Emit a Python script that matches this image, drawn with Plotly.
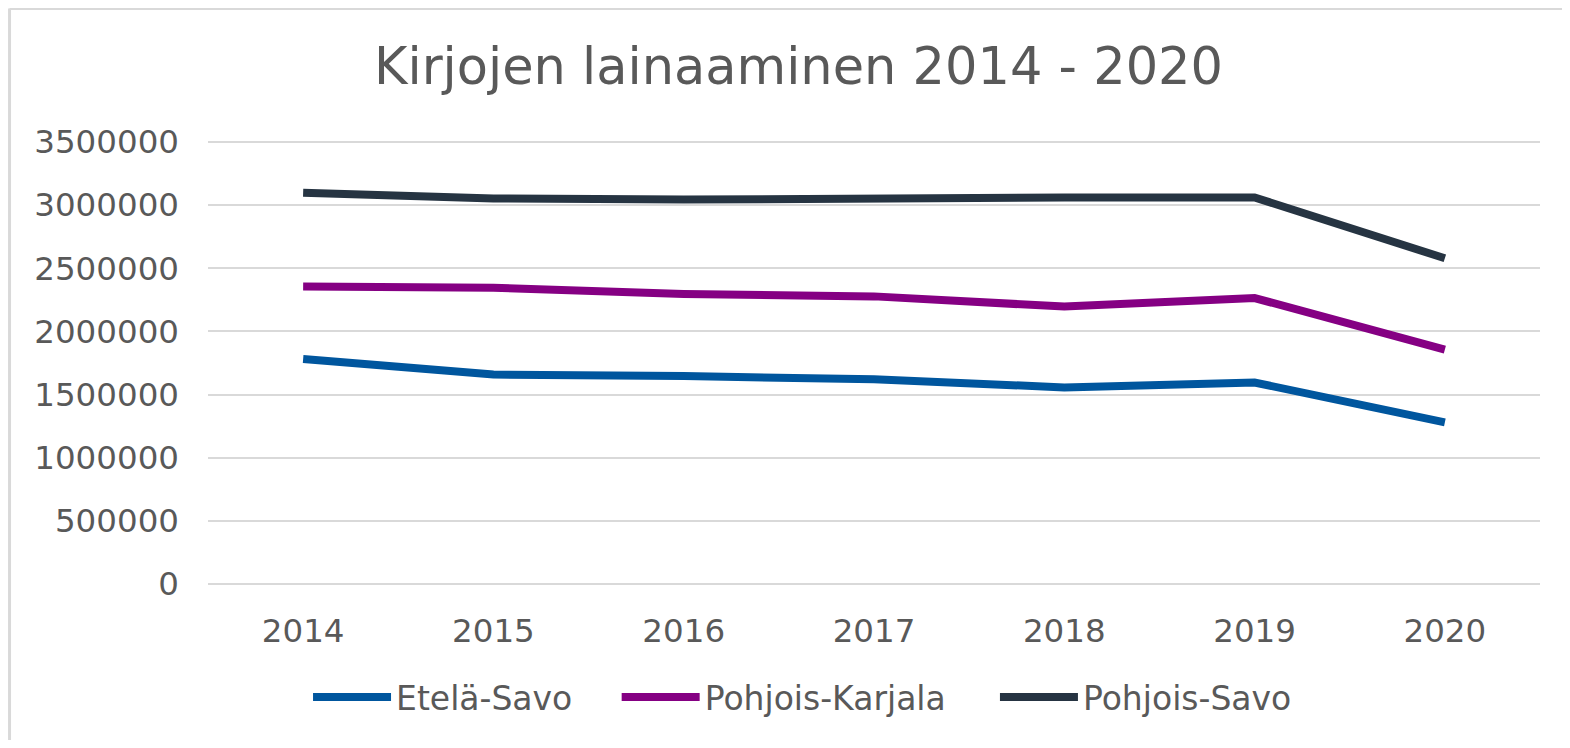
import plotly.graph_objects as go

years = ["2014", "2015", "2016", "2017", "2018", "2019", "2020"]
etela_savo = [1781000, 1658000, 1646000, 1621000, 1556000, 1595000, 1280000]
pohjois_karjala = [2356000, 2345000, 2296000, 2277000, 2196000, 2264000, 1855000]
pohjois_savo = [3097000, 3052000, 3043000, 3055000, 3059000, 3060000, 2579000]
y_ticks = [0, 500000, 1000000, 1500000, 2000000, 2500000, 3000000, 3500000]

series = [
    ("Etelä-Savo", etela_savo, "#00569E", "legend", 0.0751),
    ("Pohjois-Karjala", pohjois_karjala, "#850083", "legend2", 0.3068),
    ("Pohjois-Savo", pohjois_savo, "#263442", "legend3", 0.5908),
]

fig = go.Figure()
legends = {}
for name, vals, color, leg, lx in series:
    fig.add_trace(go.Scatter(
        x=years, y=vals, name=name, mode="lines",
        line=dict(color=color, width=8),
        legend=leg,
    ))
    legends[leg] = dict(
        orientation="h", x=lx, xanchor="left", y=-0.2545, yanchor="middle",
        font=dict(size=33, color="#595959"), itemwidth=78,
        bgcolor="rgba(0,0,0,0)",
    )

# chart frame: only the left and top edges show in the picture
frame = dict(color="#d9d9d9", width=3)
fig.update_layout(
    width=1554, height=732,
    paper_bgcolor="white", plot_bgcolor="white",
    margin=dict(l=200, r=22, t=132, b=156, autoexpand=False),
    font=dict(family="DejaVu Sans", size=32, color="#595959"),
    title=dict(
        text="Kirjojen lainaaminen 2014 - 2020",
        x=0.5087, xanchor="center", y=0.9205, yanchor="middle",
        font=dict(size=51, color="#595959"),
    ),
    showlegend=True,
    shapes=[
        dict(type="line", xref="paper", yref="paper",
             x0=-0.149, x1=-0.149, y0=-0.5, y1=1.2962, line=frame),
        dict(type="line", xref="paper", yref="paper",
             x0=-0.149, x1=1.2, y0=1.2962, y1=1.2962, line=frame),
    ],
    **legends,
)

fig.update_xaxes(
    range=[-0.5, 6.5],
    showgrid=False, showline=False, ticks="",
    tickfont=dict(size=32.5), ticklabelstandoff=24,
)
fig.update_yaxes(
    range=[0, 3515000], tickvals=y_ticks,
    ticktext=[str(v) for v in y_ticks],
    showgrid=True, gridcolor="#d9d9d9", gridwidth=2,
    zeroline=True, zerolinecolor="#d9d9d9", zerolinewidth=2,
    showline=False, ticks="",
    tickfont=dict(size=32.5), ticklabelstandoff=28,
)

fig.write_html("out.html")
